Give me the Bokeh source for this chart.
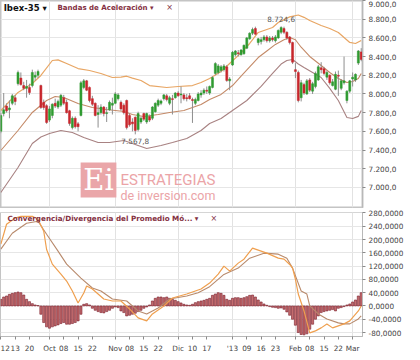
from bokeh.plotting import figure
from bokeh.layouts import column
from bokeh.models import Range1d, FixedTicker, Label, ColumnDataSource
from bokeh.core.properties import value
from bokeh.embed import file_html
from bokeh.resources import INLINE

# ---------------- data (trading-day index, Sep 6 2012 = -1) ----------------
first_day = -1
opens = [7600, 7790, 7870, 7830, 7900, 7960, 8110, 8170, 8090, 8060, 8070, 8090, 8180, 8200,
         8090, 7910, 7875, 7720, 7770, 7900, 7860, 7880, 7960, 7910, 7820, 7640, 7740, 7680,
         7770, 8070, 8140, 8070, 7950, 7900, 7780, 7800, 7860, 7790, 7830, 7880, 7900, 7950,
         7910, 7880, 7930, 7770, 7700, 7750, 7620, 7700, 7790, 7700, 7760, 7740, 7810, 7880,
         7900, 7950, 7980, 7900, 7950, 7960, 8010, 7990, 7990, 7960, 7980, 7940, 7900, 7930,
         7990, 8010, 8040, 8010, 8070, 8220, 8230, 8250, 8260, 8290, 8140, 8310, 8420, 8440,
         8420, 8430, 8490, 8590, 8650, 8700, 8550, 8560, 8580, 8610, 8570, 8600, 8570, 8600,
         8660, 8700, 8660, 8610, 8550, 8260, 8230, 7960, 8100, 8000, 8150, 8030, 8080, 8150,
         8280, 8270, 8180, 8200, 8090, 8050, 8200, 8060, 8120, 7930, 8030, 8160, 8150, 8330,
         8450]
highs = [7800, 8010, 7900, 7930, 8000, 7990, 8250, 8230, 8130, 8150, 8110, 8260, 8240, 8260,
         8100, 7940, 7890, 7870, 7900, 7950, 7940, 8000, 7990, 7940, 7830, 7760, 7760, 7700,
         8140, 8160, 8150, 8080, 7980, 7910, 7880, 7890, 7870, 7860, 7930, 7960, 8020, 8010,
         7930, 7900, 7940, 7790, 7740, 7760, 7810, 7760, 7800, 7800, 7780, 7870, 7910, 7950,
         7940, 8000, 8000, 7980, 7990, 8020, 8030, 8080, 8010, 8000, 8010, 7960, 7960, 8020,
         8040, 8060, 8080, 8090, 8190, 8340, 8320, 8310, 8320, 8310, 8180, 8460, 8470, 8470,
         8480, 8530, 8610, 8660, 8710, 8720, 8600, 8610, 8630, 8630, 8620, 8620, 8630, 8690,
         8724.6, 8720, 8670, 8620, 8560, 8330, 8250, 8150, 8120, 8160, 8170, 8130, 8240, 8310,
         8340, 8290, 8250, 8210, 8160, 8240, 8250, 8160, 8400, 8040, 8150, 8230, 8220, 8470,
         8490]
lows = [7580, 7760, 7800, 7740, 7880, 7880, 8090, 8090, 8040, 7960, 7990, 8070, 8140, 8170,
        7840, 7830, 7680, 7700, 7740, 7850, 7840, 7860, 7880, 7790, 7660, 7620, 7630, 7600,
        7760, 8050, 8030, 7910, 7870, 7760, 7640, 7780, 7760, 7700, 7820, 7780, 7890, 7930,
        7820, 7780, 7620, 7650, 7600, 7567.8, 7600, 7680, 7710, 7680, 7700, 7720, 7800, 7860,
        7880, 7930, 7920, 7880, 7780, 7950, 7970, 7900, 7930, 7920, 7940, 7690, 7880, 7920,
        7960, 7990, 8000, 7990, 8060, 8200, 8210, 8230, 8240, 8130, 8040, 8300, 8400, 8400,
        8410, 8420, 8480, 8580, 8630, 8630, 8520, 8530, 8560, 8550, 8550, 8560, 8550, 8590,
        8640, 8640, 8580, 8530, 8320, 8170, 7910, 7920, 7990, 7990, 8020, 8000, 8060, 8140,
        8220, 8200, 8150, 8100, 8080, 8040, 7980, 8040, 8100, 7900, 8010, 8080, 8130, 8310,
        8350]
closes = [7770, 7830, 7820, 7850, 7980, 7920, 8230, 8100, 8060, 8080, 8015, 8230, 8200, 8240,
          7855, 7855, 7695, 7840, 7890, 7870, 7920, 7985, 7900, 7800, 7685, 7740, 7650, 7650,
          8120, 8140, 8040, 7930, 7890, 7770, 7800, 7860, 7790, 7800, 7910, 7900, 8000, 7990,
          7840, 7800, 7640, 7670, 7680, 7610, 7790, 7740, 7730, 7790, 7720, 7860, 7900, 7930,
          7925, 7990, 7940, 7960, 7940, 8010, 7980, 8000, 7950, 7950, 7950, 7930, 7940, 8000,
          8010, 8040, 8030, 8080, 8175, 8325, 8300, 8290, 8300, 8145, 8160, 8445, 8460, 8430,
          8470, 8520, 8600, 8650, 8690, 8640, 8590, 8580, 8610, 8570, 8600, 8580, 8610, 8680,
          8710, 8660, 8600, 8550, 8340, 8240, 7930, 8120, 8010, 8140, 8040, 8110, 8220, 8290,
          8260, 8220, 8230, 8120, 8130, 8210, 8190, 8140, 8140, 8030, 8140, 8180, 8210, 8460,
          8370]

upper_band_days = [-1, 5, 10, 13, 17, 19, 22, 26, 30, 34, 38, 41, 43, 45, 48, 51, 57, 61, 66,
                   69, 72, 76, 79, 83, 86, 89, 94, 96, 100, 103, 105, 107, 111, 114, 117, 121,
                   123, 125]
upper_band = [7823, 8016, 8112, 8198, 8358, 8365, 8326, 8272, 8251, 8219, 8176, 8180, 8190,
              8170, 8144, 8090, 8069, 8080, 8090, 8123, 8165, 8240, 8326, 8440, 8540, 8658,
              8711, 8765, 8825, 8845, 8820, 8786, 8733, 8700, 8658, 8551, 8540, 8572]
middle_band_days = [-1, 5, 10, 15, 18, 21, 26, 31, 36, 42, 45, 49, 54, 58, 63, 69, 72, 76, 80,
                    83, 86, 89, 92, 95, 98, 100, 102, 104, 107, 111, 114, 117, 120, 122, 124,
                    125]
middle_band = [7395, 7609, 7802, 7930, 7973, 7962, 7898, 7855, 7834, 7812, 7780, 7759, 7780,
               7802, 7823, 7887, 7941, 7995, 8090, 8190, 8290, 8390, 8460, 8530, 8580, 8604,
               8580, 8500, 8401, 8305, 8230, 8165, 8123, 8133, 8165, 8219]
lower_band_days = [-1, 5, 10, 13, 16, 20, 24, 28, 33, 37, 42, 45, 50, 55, 59, 64, 69, 72, 76,
                   79, 85, 90, 94, 97, 99, 101, 103, 105, 108, 111, 114, 117, 120, 122, 124, 125]
lower_band = [6946, 7213, 7470, 7540, 7577, 7609, 7588, 7534, 7481, 7481, 7502, 7470, 7416,
              7448, 7481, 7523, 7609, 7684, 7737, 7802, 7930, 8080, 8219, 8320, 8358, 8369,
              8320, 8283, 8230, 8176, 8060, 7930, 7748, 7737, 7760, 7823]

macd_days = [-1, 1, 4, 6, 10, 12, 14, 15, 17, 20, 22, 24, 26, 28, 29, 31, 35, 38, 41, 44, 47,
             50, 52, 56, 59, 64, 69, 72, 75, 77, 79, 82, 84, 87, 89, 92, 96, 98, 100, 101, 102,
             103, 105, 107, 109, 111, 113, 115, 117, 119, 121, 124, 125]
macd = [186, 246, 265, 270, 270, 261, 225, 170, 126, 96, 75, 45, 9, 39, 60, 51, 21, 15, 15, -9,
        -36, -45, -24, 0, 24, 36, 51, 69, 96, 120, 105, 129, 141, 174, 168, 159, 144, 141, 125,
        114, 80, 36, -15, -81, -75, -66, -54, -66, -60, -54, -45, -15, 0]
signal_days = [-1, 3, 8, 12, 15, 19, 22, 27, 31, 34, 38, 43, 47, 50, 54, 58, 64, 68, 72, 77,
               82, 86, 91, 96, 99, 101, 104, 106, 107, 110, 113, 117, 119, 121, 124, 125]
signal = [171, 219, 249, 255, 216, 165, 126, 84, 54, 45, 21, 15, -15, -24, -6, 21, 30, 40, 58,
          95, 114, 144, 159, 156, 144, 114, 45, 36, 0, -24, -39, -51, -54, -54, -39, -30]
hist = [20, 27, 30, 35, 38, 40, 42, 40, 33, 20, 13, 7, 3, 1, -25, -50, -63, -67, -63, -60, -57,
        -53, -50, -55, -55, -53, -50, -45, -25, 5, 7, 3, -7, -13, -17, -20, -21, -17, -13, -7,
        -3, -5, -15, -20, -30, -28, -25, -22, -17, -13, -7, -3, 3, 15, 23, 27, 27, 25, 27, 23,
        20, 17, 13, 9, 5, 3, 2, 5, 10, 13, 15, 17, 20, 23, 32, 36, 40, 38, 32, 20, 17, 23, 25,
        25, 23, 25, 28, 32, 33, 27, 18, 12, 6, 2, -2, -4, -5, -7, -6, -10, -18, -28, -40, -58,
        -80, -86, -87, -84, -70, -55, -40, -30, -20, -17, -15, -13, -11, -15, -7, -5, -2, 3, 6,
        12, 18, 30, 40]

price_ticks = [7000, 7200, 7400, 7600, 7800, 8000, 8200, 8400, 8600, 8800, 9000]
macd_ticks = [-80, -40, 0, 40, 80, 120, 160, 200, 240, 280]
date_tick_days = [-1, 4, 9, 16, 21, 26, 31, 39, 44, 49, 54, 61, 66, 71, 80, 85, 90, 95, 102,
                  107, 112, 117, 122]
date_tick_labels = ["12", "13", "20", "Oct", "08", "15", "22", "Nov", "08", "15", "22", "Dic",
                    "10", "17", "'13", "09", "16", "23", "Feb", "08", "15", "22", "Mar"]
month_days = [16, 39, 61, 80, 102, 122]

days = list(range(first_day, first_day + len(closes)))

# ---------------- helpers ----------------
FONT = "DejaVu Sans"
MAROON = "#84303f"


def es_num(v, decimals):
    s = f"{v:,.{decimals}f}"
    return s.replace(",", "X").replace(".", ",").replace("X", ".")


def style(p, yticks, ylabels):
    p.yaxis.ticker = FixedTicker(ticks=yticks)
    p.yaxis.major_label_overrides = ylabels
    p.yaxis.major_label_text_font = FONT
    p.yaxis.major_label_text_font_size = "7.3px"
    p.yaxis.major_label_text_color = "#444444"
    p.yaxis.major_tick_in = 0
    p.yaxis.major_tick_out = 3
    p.yaxis.minor_tick_line_color = None
    p.yaxis.axis_line_color = "#b8b8b8"
    p.yaxis.major_tick_line_color = "#8a8a8a"
    p.yaxis.major_label_standoff = 3
    p.ygrid.ticker = FixedTicker(ticks=yticks)
    p.ygrid.grid_line_color = "#e6e6e6"
    p.xgrid.ticker = FixedTicker(ticks=month_days)
    p.xgrid.grid_line_color = "#e2e2e2"
    p.outline_line_color = "#c4c4c4"
    p.background_fill_color = "white"
    p.border_fill_color = "white"


x_range = Range1d(-1.12, 125.45)

# ---------------- price panel ----------------
p1 = figure(width=410, height=208, x_range=x_range, y_range=Range1d(6785, 9000),
            output_backend="svg", toolbar_location=None, y_axis_location="right",
            x_axis_location=None, min_border_left=0, min_border_top=0,
            min_border_bottom=1, min_border_right=48)
style(p1, price_ticks, {t: es_num(t, 1) for t in price_ticks})
p1.outline_line_width = 2

# watermark logo
p1.quad(left=[26.9], right=[39.4], top=[7267], bottom=[6892], fill_color="#eaa6a9",
        line_color=None)
p1.text(x=[33.15], y=[7080], text=["Ei"], text_color="white", text_font=value("DejaVu Serif"),
        text_font_size="29px", text_align="center", text_baseline="middle")
p1.text(x=[40.8], y=[7075], text=["ESTRATEGIAS"], text_color="#eba4a7",
        text_font=value("Roboto"), text_font_size="15px", text_baseline="alphabetic")
p1.text(x=[40.8], y=[6915], text=["de inversion.com"], text_color="#eba4a7",
        text_font=value("Roboto"), text_font_size="12.5px", text_baseline="alphabetic")

p1.line(lower_band_days, lower_band, color="#a88282", line_width=1.1)
p1.line(middle_band_days, middle_band, color="#c48a68", line_width=1.1)
p1.line(upper_band_days, upper_band, color="#e8a664", line_width=1.2)

body_top = [max(o, c) for o, c in zip(opens, closes)]
body_bot = [min(o, c) for o, c in zip(opens, closes)]
cols = ["#2f9b30" if c >= o else "#c8262c" for o, c in zip(opens, closes)]
src = ColumnDataSource(dict(x=days, lo=lows, hi=highs, t=body_top, b=body_bot, c=cols))
p1.segment(x0="x", y0="lo", x1="x", y1="hi", source=src, color="#8e8e8e", line_width=1)
p1.vbar(x="x", width=0.72, top="t", bottom="b", source=src, fill_color="c", line_color="c",
        line_width=0.5)

i_max = highs.index(max(highs))
i_min = lows.index(min(lows))
p1.add_layout(Label(x=days[i_max], y=highs[i_max] + 40, text=es_num(highs[i_max], 1),
                    text_font=FONT, text_font_size="7.3px", text_color="#555555",
                    text_align="center", text_baseline="bottom"))
p1.add_layout(Label(x=days[i_min], y=lows[i_min] - 40, text=es_num(lows[i_min], 1),
                    text_font=FONT, text_font_size="7.3px", text_color="#555555",
                    text_align="center", text_baseline="top"))

p1.add_layout(Label(x=0.0, y=8975, text="Ibex-35 \u25be", text_font=FONT,
                    text_font_size="8.5px", text_font_style="bold", text_color="#111111",
                    text_baseline="top"))
p1.add_layout(Label(x=18.8, y=8975, text="Bandas de Aceleración \u25be", text_font=FONT,
                    text_font_size="7.05px", text_font_style="bold", text_color=MAROON,
                    text_baseline="top"))
p1.add_layout(Label(x=56.8, y=8975, text="\u00d7", text_font=FONT,
                    text_font_size="8px", text_color=MAROON, text_baseline="top"))

# ---------------- MACD panel ----------------
p2 = figure(width=410, height=152, x_range=x_range, y_range=Range1d(-92, 281.5),
            output_backend="svg", toolbar_location=None, y_axis_location="right",
            min_border_left=0, min_border_top=4, min_border_bottom=24, min_border_right=48)
style(p2, macd_ticks, {t: f"{t:.4f}".replace(".", ",") for t in macd_ticks})
p2.xaxis.ticker = FixedTicker(ticks=date_tick_days)
p2.xaxis.major_label_overrides = dict(zip(date_tick_days, date_tick_labels))
p2.xaxis.major_label_text_font = FONT
p2.xaxis.major_label_text_font_size = "7.3px"
p2.xaxis.major_label_text_color = "#444444"
p2.xaxis.major_tick_in = 0
p2.xaxis.major_tick_out = 3
p2.xaxis.minor_tick_line_color = None
p2.xaxis.axis_line_color = "#b8b8b8"
p2.xaxis.major_tick_line_color = "#8a8a8a"
p2.xaxis.major_label_standoff = 4

p2.vbar(x=days, top=hist, bottom=0, width=0.74, fill_color="#c46c6e", line_color="#7a1f2b",
        line_width=0.6)
p2.line(signal_days, signal, color="#b88a6c", line_width=1.1)
p2.line(macd_days, macd, color="#ef9f4e", line_width=1.2)

p2.add_layout(Label(x=1.3, y=276, text="Convergencia/Divergencia del Promedio Mó... \u25be",
                    text_font=FONT, text_font_size="7.2px", text_font_style="bold",
                    text_color=MAROON, text_baseline="top"))
p2.add_layout(Label(x=72.3, y=276, text="\u00d7", text_font=FONT, text_font_size="8px",
                    text_color=MAROON, text_baseline="top"))

layout = column(p1, p2, spacing=0)
open("out.html", "w").write(file_html(layout, INLINE))
